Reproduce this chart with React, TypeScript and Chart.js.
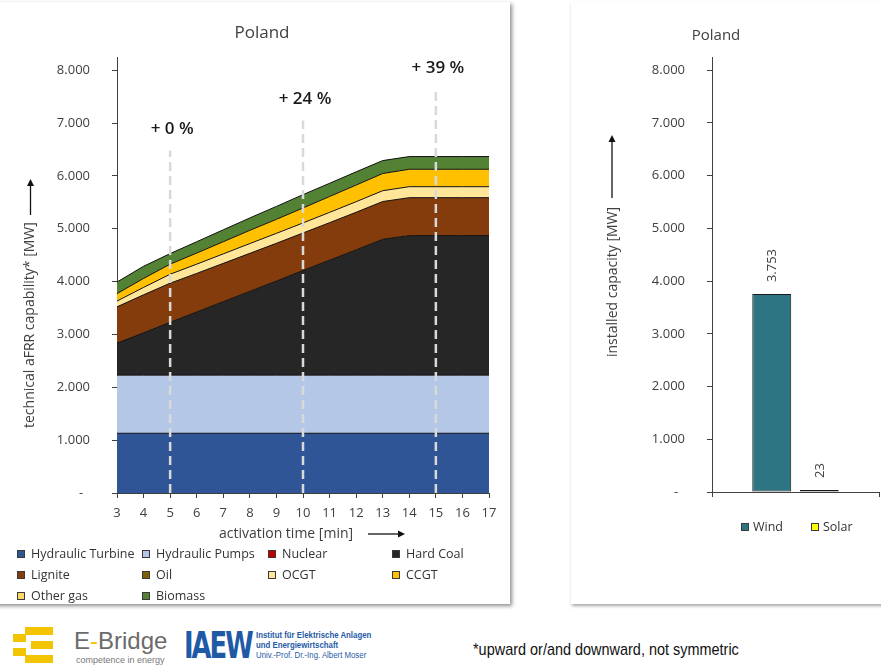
import React, { useEffect, useRef } from 'react';
import { Chart, registerables } from 'chart.js';

Chart.register(...registerables);
Chart.defaults.font.family = '"Open Sans", "Noto Sans", sans-serif';

// ---------- data ----------
const activationTimes = [3, 4, 5, 6, 7, 8, 9, 10, 11, 12, 13, 14, 15, 16, 17];
const hydraulicTurbine = [1130, 1130, 1130, 1130, 1130, 1130, 1130, 1130, 1130, 1130, 1130, 1130, 1130, 1130, 1130];
const hydraulicPumps = [1100, 1100, 1100, 1100, 1100, 1100, 1100, 1100, 1100, 1100, 1100, 1100, 1100, 1100, 1100];
const nuclear = [0, 0, 0, 0, 0, 0, 0, 0, 0, 0, 0, 0, 0, 0, 0];
const hardCoal = [606, 800, 1000, 1195, 1390, 1585, 1780, 1980, 2175, 2370, 2570, 2640, 2640, 2640, 2640];
const lignite = [686, 720, 740, 730, 725, 720, 715, 710, 710, 712, 715, 718, 718, 718, 718];
const oil = [0, 0, 0, 0, 0, 0, 0, 0, 0, 0, 0, 0, 0, 0, 0];
const ocgt = [110, 140, 170, 175, 180, 185, 188, 190, 195, 200, 205, 208, 208, 208, 208];
const ccgt = [140, 170, 190, 210, 230, 250, 265, 283, 300, 315, 325, 330, 330, 330, 330];
const otherGas = [0, 0, 0, 0, 0, 0, 0, 0, 0, 0, 0, 0, 0, 0, 0];
const biomass = [220, 230, 200, 215, 225, 235, 245, 252, 250, 250, 245, 240, 240, 240, 240];

const seriesNames = ['Hydraulic Turbine', 'Hydraulic Pumps', 'Nuclear', 'Hard Coal', 'Lignite', 'Oil', 'OCGT', 'CCGT', 'Other gas', 'Biomass'];
const seriesValues = [hydraulicTurbine, hydraulicPumps, nuclear, hardCoal, lignite, oil, ocgt, ccgt, otherGas, biomass];
const seriesColors = ['#2F5597', '#B4C7E7', '#C00000', '#262626', '#843C0C', '#7F6000', '#FFE699', '#FFC000', '#FFD966', '#548235'];

const yTickValues = [0, 1000, 2000, 3000, 4000, 5000, 6000, 7000, 8000];
const yMax = 8250;

const markerTimes = [5, 10, 15];
const markerLabels = ['+ 0 %', '+ 24 %', '+ 39 %'];
const markerLineTops = [6480, 7050, 7650];

const capacityCategories = ['Wind', 'Solar'];
const capacityValues = [3753, 23];
const capacityColors = ['#2E7584', '#FFFF00'];

const leftTitle = 'Poland';
const rightTitle = 'Poland';
const leftYTitle = 'technical aFRR capability* [MW]';
const leftXTitle = 'activation time [min]';
const rightYTitle = 'installed capacity [MW]';
const footnote = '*upward or/and downward, not symmetric';

// ---------- helpers ----------
const textColor = '#404040';
const axisColor = '#404040';

function fmtThousands(v: number): string {
  if (v === 0) return '-  ';
  return String(Math.round(v)).replace(/\B(?=(\d{3})+(?!\d))/g, '.');
}

function drawArrow(ctx: CanvasRenderingContext2D, x1: number, y1: number, x2: number, y2: number) {
  const ang = Math.atan2(y2 - y1, x2 - x1);
  const head = 7;
  const hw = 3.5;
  ctx.save();
  ctx.strokeStyle = '#111';
  ctx.fillStyle = '#111';
  ctx.lineWidth = 1.3;
  ctx.setLineDash([]);
  ctx.beginPath();
  ctx.moveTo(x1, y1);
  ctx.lineTo(x2 - Math.cos(ang) * head, y2 - Math.sin(ang) * head);
  ctx.stroke();
  ctx.beginPath();
  ctx.moveTo(x2, y2);
  ctx.lineTo(x2 - Math.cos(ang) * head - Math.sin(ang) * hw, y2 - Math.sin(ang) * head + Math.cos(ang) * hw);
  ctx.lineTo(x2 - Math.cos(ang) * head + Math.sin(ang) * hw, y2 - Math.sin(ang) * head - Math.cos(ang) * hw);
  ctx.closePath();
  ctx.fill();
  ctx.restore();
}

const leftOverlay = {
  id: 'leftOverlay',
  afterDatasetsDraw(chart: any) {
    const { ctx, chartArea } = chart;
    const x = chart.scales.x;
    const y = chart.scales.y;
    ctx.save();
    markerTimes.forEach((t, i) => {
      const px = x.getPixelForValue(activationTimes.indexOf(t));
      const top = y.getPixelForValue(markerLineTops[i]);
      ctx.strokeStyle = '#d9d9d9';
      ctx.lineWidth = 2.5;
      ctx.setLineDash([9, 5]);
      ctx.beginPath();
      ctx.moveTo(px, chartArea.bottom);
      ctx.lineTo(px, top);
      ctx.stroke();
      ctx.setLineDash([]);
      ctx.fillStyle = '#1a1a1a';
      ctx.font = '600 17px "Open Sans", sans-serif';
      ctx.textAlign = 'center';
      ctx.textBaseline = 'middle';
      ctx.fillText(markerLabels[i], px + 2, top - 21);
    });
    ctx.restore();
  },
  afterDraw(chart: any) {
    const { ctx, chartArea } = chart;
    ctx.save();
    ctx.fillStyle = textColor;
    ctx.font = '14px "Open Sans", sans-serif';
    // y title (rotated)
    const tx = chartArea.left - 86.5;
    const ty = chartArea.bottom - 65;
    ctx.save();
    ctx.translate(tx, ty);
    ctx.rotate(-Math.PI / 2);
    ctx.textAlign = 'left';
    ctx.textBaseline = 'middle';
    ctx.fillText(leftYTitle, 0, 0);
    ctx.restore();
    drawArrow(ctx, tx, chartArea.bottom - 278, tx, chartArea.bottom - 314);
    // x title
    ctx.textAlign = 'center';
    ctx.textBaseline = 'middle';
    ctx.fillText(leftXTitle, chartArea.left + 169, chartArea.bottom + 41);
    drawArrow(ctx, chartArea.left + 251, chartArea.bottom + 41, chartArea.left + 288, chartArea.bottom + 41);
    ctx.restore();
  },
};

const rightOverlay = {
  id: 'rightOverlay',
  afterDatasetsDraw(chart: any) {
    const { ctx } = chart;
    ctx.save();
    ctx.fillStyle = textColor;
    ctx.font = '13px "Open Sans", sans-serif';
    chart.data.datasets.forEach((ds: any, di: number) => {
      const meta = chart.getDatasetMeta(di);
      meta.data.forEach((bar: any, j: number) => {
        ctx.save();
        ctx.translate(bar.x + 1, bar.y - 12);
        ctx.rotate(-Math.PI / 2);
        ctx.textAlign = 'left';
        ctx.textBaseline = 'middle';
        ctx.fillText(fmtThousands(ds.data[j]), 0, 0);
        ctx.restore();
      });
    });
    ctx.restore();
  },
  afterDraw(chart: any) {
    const { ctx, chartArea } = chart;
    ctx.save();
    ctx.fillStyle = textColor;
    ctx.font = '14px "Open Sans", sans-serif';
    const tx = chartArea.left - 99;
    const ty = chartArea.bottom - 135;
    ctx.save();
    ctx.translate(tx, ty);
    ctx.rotate(-Math.PI / 2);
    ctx.textAlign = 'left';
    ctx.textBaseline = 'middle';
    ctx.fillText(rightYTitle, 0, 0);
    ctx.restore();
    drawArrow(ctx, tx - 1, chartArea.bottom - 294, tx - 1, chartArea.bottom - 357);
    ctx.restore();
  },
};

const yScaleCommon = {
  min: 0,
  max: yMax,
  afterBuildTicks: (s: any) => {
    s.ticks = yTickValues.map((v) => ({ value: v }));
  },
  ticks: {
    callback: (v: any) => fmtThousands(Number(v)),
    color: textColor,
    font: { size: 13 },
    padding: 22,
  },
  grid: { display: true, drawOnChartArea: false, drawTicks: true, tickLength: 5, color: axisColor },
  border: { display: true, color: axisColor, width: 1 },
};

const legendBox = (color: string): React.CSSProperties => ({
  display: 'inline-block',
  width: 6,
  height: 6,
  background: color,
  border: '1px solid #3a3a3a',
  marginRight: 6,
  verticalAlign: 'middle',
  position: 'relative',
  top: -1,
});

export default function App() {
  const leftRef = useRef<HTMLCanvasElement>(null);
  const rightRef = useRef<HTMLCanvasElement>(null);

  useEffect(() => {
    const left = new Chart(leftRef.current as HTMLCanvasElement, {
      type: 'line',
      data: {
        labels: activationTimes.map(String),
        datasets: seriesNames.map((name, i) => {
          const allZero = seriesValues[i].every((v) => v === 0);
          return {
            label: name,
            data: seriesValues[i],
            backgroundColor: seriesColors[i],
            borderColor: '#111111',
            borderWidth: allZero ? 0 : 1,
            fill: i === 0 ? 'origin' : '-1',
            pointRadius: 0,
            tension: 0,
          };
        }),
      },
      options: {
        responsive: false,
        animation: false,
        layout: { padding: { left: 35, right: 35, top: 0, bottom: 0 } },
        plugins: {
          legend: { display: false },
          tooltip: { enabled: false },
          title: {
            display: true,
            text: leftTitle,
            color: textColor,
            font: { size: 17, weight: 'normal' },
            padding: { top: 22.8, bottom: 13.8 },
          },
        },
        scales: {
          x: {
            type: 'category',
            offset: false,
            grid: { display: true, offset: false, drawOnChartArea: false, drawTicks: true, tickLength: 5, color: axisColor },
            border: { display: true, color: axisColor, width: 1 },
            ticks: { color: textColor, font: { size: 13 }, padding: 7, maxRotation: 0, autoSkip: false },
            afterFit: (s: any) => {
              s.height = 67;
            },
          },
          y: {
            ...yScaleCommon,
            stacked: true,
            afterFit: (s: any) => {
              s.width = 82;
            },
          },
        },
      } as any,
      plugins: [leftOverlay],
    });

    const right = new Chart(rightRef.current as HTMLCanvasElement, {
      type: 'bar',
      data: {
        labels: [''],
        datasets: capacityCategories.map((name, i) => ({
          label: name,
          data: [capacityValues[i]],
          backgroundColor: capacityColors[i],
          borderColor: '#1a1a1a',
          borderWidth: 1,
          borderSkipped: false,
          minBarLength: 2,
        })),
      },
      options: {
        responsive: false,
        animation: false,
        categoryPercentage: 0.569,
        barPercentage: 0.82,
        layout: { padding: { left: 0, right: 2, top: 0, bottom: 0 } },
        plugins: {
          legend: { display: false },
          tooltip: { enabled: false },
          title: {
            display: true,
            text: rightTitle,
            color: textColor,
            font: { size: 15, weight: 'normal' },
            padding: { top: 27, bottom: 12 },
          },
        },
        scales: {
          x: {
            grid: { display: true, offset: true, drawOnChartArea: false, drawTicks: true, tickLength: 5, color: axisColor },
            border: { display: true, color: axisColor, width: 1 },
            ticks: { display: false },
            afterFit: (s: any) => {
              s.height = 38;
            },
          },
          y: {
            ...yScaleCommon,
            afterFit: (s: any) => {
              s.width = 159;
            },
          },
        },
      } as any,
      plugins: [rightOverlay],
    });

    return () => {
      left.destroy();
      right.destroy();
    };
  }, []);

  const legendCols = [17, 142, 268, 392];

  return (
    <div
      style={{
        position: 'fixed',
        left: 0,
        top: 0,
        width: 881,
        height: 668,
        background: '#fff',
        overflow: 'hidden',
        fontFamily: '"Open Sans", "Noto Sans", sans-serif',
      }}
    >
      {/* panels */}
      <div style={{ position: 'absolute', left: -20, top: 2, width: 530, height: 602, background: '#fff', boxShadow: '2px 2px 4px rgba(0,0,0,0.45)' }} />
      <div style={{ position: 'absolute', left: 571, top: 2, width: 340, height: 602, background: '#fff', boxShadow: '1px 2px 3px rgba(0,0,0,0.35)' }} />

      <canvas ref={leftRef} width={524} height={560} style={{ position: 'absolute', left: 0, top: 0 }} />
      <canvas ref={rightRef} width={328} height={530} style={{ position: 'absolute', left: 553, top: 0 }} />

      {/* left legend */}
      {seriesNames.map((name, i) => (
        <div
          key={name}
          style={{
            position: 'absolute',
            left: legendCols[i % 4],
            top: 543 + Math.floor(i / 4) * 21,
            height: 21,
            lineHeight: '21px',
            fontSize: 12.5,
            color: '#333',
            whiteSpace: 'nowrap',
          }}
        >
          <span style={legendBox(seriesColors[i])} />
          {name}
        </div>
      ))}

      {/* right legend */}
      {capacityCategories.map((name, i) => (
        <div
          key={name}
          style={{
            position: 'absolute',
            left: i === 0 ? 741 : 811,
            top: 516,
            height: 21,
            lineHeight: '21px',
            fontSize: 12.5,
            color: '#333',
            whiteSpace: 'nowrap',
          }}
        >
          <span style={{ ...legendBox(capacityColors[i]), marginRight: 4 }} />
          {name}
        </div>
      ))}

      {/* E-Bridge logo */}
      <div style={{ position: 'absolute', left: 25, top: 627, width: 28, height: 8, background: '#F2C500' }} />
      <div style={{ position: 'absolute', left: 13, top: 634, width: 13, height: 8, background: '#F2C500' }} />
      <div style={{ position: 'absolute', left: 31, top: 641, width: 22, height: 8, background: '#F2C500' }} />
      <div style={{ position: 'absolute', left: 13, top: 648, width: 13, height: 8, background: '#F2C500' }} />
      <div style={{ position: 'absolute', left: 25, top: 655, width: 28, height: 8, background: '#F2C500' }} />
      <div style={{ position: 'absolute', left: 74, top: 627, fontSize: 24, lineHeight: '28px', color: '#6b6b6b', fontFamily: '"Liberation Sans", Arial, sans-serif', whiteSpace: 'nowrap' }}>
        E<span style={{ color: '#F2C500' }}>-</span>Bridge
      </div>
      <div style={{ position: 'absolute', left: 76, top: 655, fontSize: 9, lineHeight: '11px', color: '#777', fontFamily: '"Liberation Sans", Arial, sans-serif', whiteSpace: 'nowrap' }}>
        competence in energy
      </div>

      {/* IAEW logo */}
      <div
        style={{
          position: 'absolute',
          left: 184,
          top: 624,
          fontSize: 38,
          lineHeight: '42px',
          fontWeight: 'bold',
          color: '#1F5AA6',
          fontFamily: '"DejaVu Sans", sans-serif',
          letterSpacing: -3,
          transform: 'scaleX(0.68)',
          transformOrigin: 'left top',
          whiteSpace: 'nowrap',
        }}
      >
        IAEW
      </div>
      <div style={{ position: 'absolute', left: 256, top: 630, fontSize: 8.5, lineHeight: '10px', color: '#1F5AA6', fontFamily: '"Liberation Sans", Arial, sans-serif', whiteSpace: 'nowrap', transform: 'scaleX(0.92)', transformOrigin: 'left top' }}>
        <div style={{ fontWeight: 'bold' }}>Institut für Elektrische Anlagen</div>
        <div style={{ fontWeight: 'bold' }}>und Energiewirtschaft</div>
        <div>Univ.-Prof. Dr.-Ing. Albert Moser</div>
      </div>

      {/* footnote */}
      <div
        style={{
          position: 'absolute',
          left: 473,
          top: 639,
          fontSize: 17,
          lineHeight: '22px',
          color: '#111',
          fontFamily: '"Liberation Sans", Arial, sans-serif',
          whiteSpace: 'nowrap',
          transform: 'scaleX(0.85)',
          transformOrigin: 'left top',
        }}
      >
        {footnote}
      </div>
    </div>
  );
}
